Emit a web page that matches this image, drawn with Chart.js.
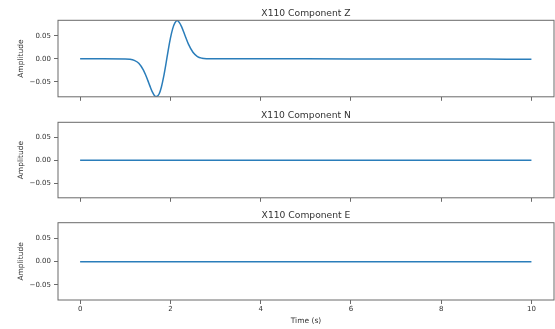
<!DOCTYPE html>
<html>
<head>
<meta charset="utf-8">
<script src="https://cdn.jsdelivr.net/npm/chart.js@4/dist/chart.umd.min.js"></script>
<style>
  html, body { margin: 0; padding: 0; background: #fff; }
  #wrap { position: relative; width: 555px; height: 329px; overflow: hidden; }
  canvas { position: absolute; left: 0; }
</style>
</head>
<body>
<div id="wrap">
  <canvas id="chartZ" width="555" height="104" style="top:0px"></canvas>
  <canvas id="chartN" width="555" height="105" style="top:100px"></canvas>
  <canvas id="chartE" width="555" height="129" style="top:200px"></canvas>
</div>
<script>
// valores
const station = 'X110';
const components = ['Z', 'N', 'E'];

const timeZ = [0, 0.5, 1.0, 1.1, 1.2, 1.3, 1.4, 1.45, 1.5, 1.55, 1.6, 1.65, 1.69, 1.75, 1.8, 1.85, 1.9, 1.95,
  2.0, 2.05, 2.1, 2.15, 2.2, 2.25, 2.3, 2.35, 2.4, 2.5, 2.6, 2.7, 2.8, 3.0, 4, 5, 6, 7, 8, 9, 10];
const ampZ = [0, 0, -0.0002, -0.0008, -0.0032, -0.0096, -0.0238, -0.0343, -0.0466, -0.0596, -0.0716, -0.0797, -0.0815,
  -0.0761, -0.0615, -0.0392, -0.0117, 0.0175, 0.0443, 0.0651, 0.0778, 0.083, 0.0786, 0.0693, 0.057, 0.044, 0.0319,
  0.0143, 0.0051, 0.0015, 0.0004, 0.0001, 0.0001, 0, -0.0001, -0.0002, -0.0004, -0.0005, -0.0007];

const timeFlat = [0, 2, 4, 6, 8, 10];
const ampN = [0, 0, 0, 0, 0, 0];
const ampE = [0, 0, 0, 0, 0, 0];

const xTicks = [0, 2, 4, 6, 8, 10];
const yTicks = [-0.05, 0, 0.05];
const xLimits = [-0.49, 10.5];
const yLimits = [-0.0822, 0.0836];

const textColor = '#333';
const frameColor = '#6a6a6a';
const lineColor = '#2a7dba';

// marco y titulo de cada panel
const framePlugin = {
  id: 'frame',
  afterDraw(chart, args, opts) {
    const { ctx, chartArea: a } = chart;
    ctx.save();
    ctx.strokeStyle = frameColor;
    ctx.lineWidth = 1;
    ctx.strokeRect(a.left, a.top, a.right - a.left, a.bottom - a.top);
    ctx.fillStyle = textColor;
    ctx.font = '9.2px "DejaVu Sans"';
    ctx.textAlign = 'center';
    ctx.textBaseline = 'alphabetic';
    ctx.fillText(opts.text, (a.left + a.right) / 2, a.top - 4.5);
    ctx.restore();
  }
};

function makePanel(id, comp, times, amps, padTop, xHeight, showX) {
  const ctx = document.getElementById(id).getContext('2d');
  return new Chart(ctx, {
    type: 'line',
    data: {
      datasets: [{
        data: times.map((t, i) => ({ x: t, y: amps[i] })),
        borderColor: lineColor,
        borderWidth: 1.5,
        pointRadius: 0,
        cubicInterpolationMode: 'monotone',
        fill: false
      }]
    },
    options: {
      responsive: false,
      animation: false,
      layout: { padding: { top: padTop, left: 0, right: 1, bottom: 0 } },
      plugins: {
        legend: { display: false },
        tooltip: { enabled: false },
        frame: { text: station + ' Component ' + comp }
      },
      scales: {
        x: {
          type: 'linear',
          min: xLimits[0],
          max: xLimits[1],
          border: { display: false },
          grid: { drawOnChartArea: false, drawTicks: true, tickLength: 4, color: frameColor },
          ticks: {
            display: showX,
            padding: 1,
            color: textColor,
            font: { family: 'DejaVu Sans', size: 7 },
            maxRotation: 0,
            callback: v => String(v)
          },
          title: {
            display: showX,
            text: 'Time (s)',
            color: textColor,
            font: { family: 'DejaVu Sans', size: 7.5 },
            padding: { top: 0, bottom: 3.5 }
          },
          afterBuildTicks: axis => { axis.ticks = xTicks.map(v => ({ value: v })); },
          afterFit: scale => { scale.height = xHeight; }
        },
        y: {
          min: yLimits[0],
          max: yLimits[1],
          border: { display: false },
          grid: { drawOnChartArea: false, drawTicks: true, tickLength: 4, color: frameColor },
          ticks: {
            padding: 3,
            color: textColor,
            font: { family: 'DejaVu Sans', size: 7 },
            callback: v => (v < 0 ? '\u2212' : '') + Math.abs(v).toFixed(2)
          },
          title: {
            display: true,
            text: 'Amplitude',
            color: textColor,
            font: { family: 'DejaVu Sans', size: 7.5 },
            padding: { top: 17, bottom: 0 }
          },
          afterBuildTicks: axis => { axis.ticks = yTicks.map(v => ({ value: v })); },
          afterFit: scale => { scale.width = 58; }
        }
      }
    },
    plugins: [framePlugin]
  });
}

document.addEventListener('DOMContentLoaded', function() {
  makePanel('chartZ', components[0], timeZ, ampZ, 20.3, 5.3, false);
  makePanel('chartN', components[1], timeFlat, ampN, 22.3, 5.3, false);
  makePanel('chartE', components[2], timeFlat, ampE, 22.7, 29, true);
});
</script>
</body>
</html>
